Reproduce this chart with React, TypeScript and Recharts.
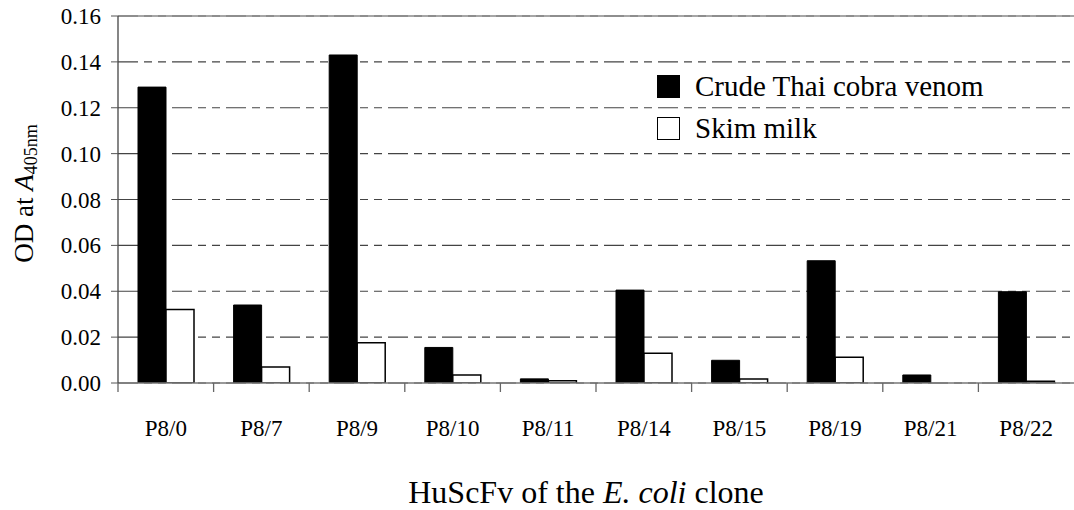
import React from 'react';
import { BarChart, Bar, XAxis, YAxis, CartesianGrid, ReferenceLine, Label } from 'recharts';

const clones = ['P8/0', 'P8/7', 'P8/9', 'P8/10', 'P8/11', 'P8/14', 'P8/15', 'P8/19', 'P8/21', 'P8/22'];
const venom = [0.129, 0.034, 0.143, 0.0155, 0.0018, 0.0405, 0.0099, 0.0533, 0.0035, 0.0398];
const skimMilk = [0.032, 0.007, 0.0175, 0.0035, 0.001, 0.013, 0.0017, 0.0112, 0, 0.0008];
const yTicks = [0, 0.02, 0.04, 0.06, 0.08, 0.1, 0.12, 0.14, 0.16];
const seriesNames = ['Crude Thai cobra venom', 'Skim milk'];

const FONT = "'Liberation Serif', 'Times New Roman', Times, serif";

const data = clones.map((c, i) => ({ clone: c, venom: venom[i], skim: skimMilk[i] }));

function CloneTick(props: any) {
	const { x, y, payload } = props;
	const left = x - (payload.offset || 0);
	return (
		<g>
			<line x1={left} x2={left} y1={y} y2={y + 9} stroke="#666" strokeWidth={1.3} />
			<text x={x} y={y + 53} textAnchor="middle" fontFamily={FONT} fontSize={23} fill="#000">{payload.value}</text>
		</g>
	);
}

function ValueTick(props: any) {
	const { x, y, payload } = props;
	return (
		<text x={x} y={y + 8} textAnchor="end" fontFamily={FONT} fontSize={23} fill="#000">{payload.value.toFixed(2)}</text>
	);
}

function YLabel(props: any) {
	const vb = props.viewBox;
	const cx = vb.x + 33;
	const cy = vb.y + vb.height / 2 - 6;
	return (
		<text x={cx} y={cy} transform={`rotate(-90 ${cx} ${cy})`} textAnchor="middle" fontFamily={FONT} fontSize={27} fill="#000">
			OD at <tspan fontStyle="italic">A</tspan><tspan fontSize={18} dy={4}>405nm</tspan>
		</text>
	);
}

function XLabel(props: any) {
	const vb = props.viewBox;
	return (
		<text x={vb.x + vb.width / 2 - 10} y={503} textAnchor="middle" fontFamily={FONT} fontSize={32} fill="#000">
			HuScFv of the <tspan fontStyle="italic">E. coli</tspan> clone
		</text>
	);
}

function ChartLegend() {
	const row = { display: 'flex', alignItems: 'center', height: 42, whiteSpace: 'nowrap' } as React.CSSProperties;
	const box = { width: 23, height: 23, border: '1.5px solid #000', marginRight: 15, boxSizing: 'border-box', display: 'inline-block' } as React.CSSProperties;
	return (
		<div style={{ position: 'absolute', left: 657, top: 65, fontFamily: FONT, fontSize: 29, color: '#000' }}>
			<div style={row}><span style={{ ...box, background: '#000' }} />{seriesNames[0]}</div>
			<div style={row}><span style={{ ...box, background: '#fff' }} />{seriesNames[1]}</div>
		</div>
	);
}

export default function App() {
	return (
		<div style={{ position: 'absolute', left: 0, top: 0, width: 1074, height: 510, background: '#fff', fontFamily: FONT }}>
			<BarChart width={1074} height={510} data={data} margin={{ top: 16, right: 0, bottom: 0, left: 0 }} barGap={0} style={{ fontFamily: FONT }}>
				<CartesianGrid vertical={false} stroke="#444" strokeWidth={1.2} strokeDasharray="20 6 8 6 8 6" />
				<ReferenceLine y={0.16} stroke="#888" strokeWidth={1.3} />
				<XAxis dataKey="clone" height={127} tick={<CloneTick />} tickLine={false} tickSize={0} tickMargin={0} axisLine={{ stroke: '#777', strokeWidth: 1.3 }} interval={0}>
					<Label content={<XLabel />} />
				</XAxis>
				<YAxis width={118} domain={[0, 0.16]} ticks={yTicks} tick={<ValueTick />} tickSize={7} tickMargin={10} tickLine={{ stroke: '#555' }} axisLine={{ stroke: '#444', strokeWidth: 1.3 }} allowDataOverflow>
					<Label content={<YLabel />} />
				</YAxis>
				<Bar dataKey="venom" name={seriesNames[0]} fill="#000" stroke="#000" strokeWidth={1} barSize={28} isAnimationActive={false} />
				<Bar dataKey="skim" name={seriesNames[1]} fill="#fff" stroke="#000" strokeWidth={1.5} barSize={28} isAnimationActive={false} />
			</BarChart>
			<ChartLegend />
		</div>
	);
}
